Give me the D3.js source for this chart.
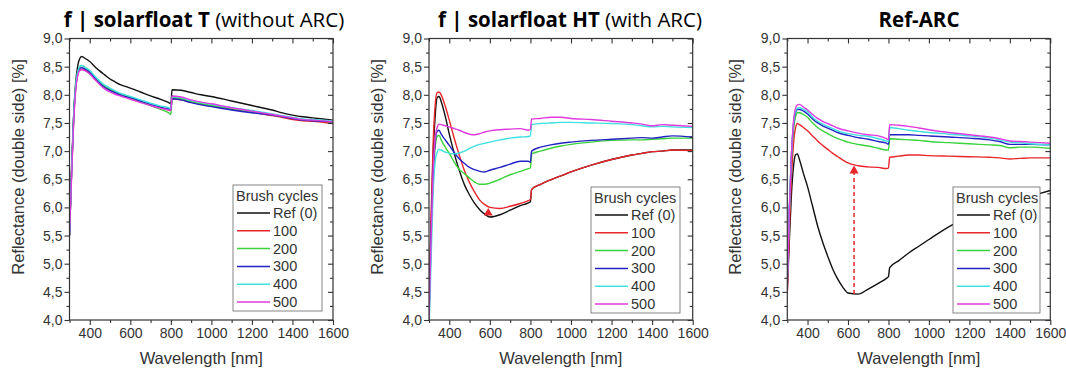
<!DOCTYPE html>
<html>
<head>
<meta charset="utf-8">
<script src="https://cdn.jsdelivr.net/npm/d3@7"></script>
<style>
  body { margin: 0; background: #fff; }
  svg { display: block; }
</style>
</head>
<body>
<svg id="chart"></svg>
<script>
// wavelength grid shared by every curve [nm]
var wavelength = [300, 310, 320, 330, 340, 350, 360, 380, 400, 425, 450, 475, 500, 525, 550, 575, 600, 650, 700, 750, 790, 800, 806, 850, 900, 950, 1000, 1100, 1200, 1300, 1350, 1400, 1450, 1500, 1600];

var seriesNames = ["Ref (0)", "100", "200", "300", "400", "500"];

// f | solarfloat T (without ARC)
var tRef = [5.5, 6.7, 7.6, 8.2, 8.5, 8.64, 8.68, 8.64, 8.59, 8.5, 8.42, 8.35, 8.28, 8.23, 8.18, 8.15, 8.12, 8.05, 7.98, 7.92, 7.86, 7.84, 8.09, 8.08, 8.04, 8.0, 7.97, 7.89, 7.81, 7.73, 7.68, 7.64, 7.61, 7.59, 7.55];
var t100 = [5.5, 6.6, 7.5, 8.1, 8.35, 8.44, 8.45, 8.43, 8.38, 8.29, 8.2, 8.13, 8.08, 8.04, 8.0, 7.97, 7.94, 7.88, 7.82, 7.77, 7.73, 7.72, 7.93, 7.91, 7.87, 7.83, 7.8, 7.74, 7.69, 7.63, 7.6, 7.56, 7.54, 7.53, 7.49];
var t200 = [5.5, 6.6, 7.55, 8.15, 8.4, 8.5, 8.52, 8.48, 8.42, 8.32, 8.22, 8.15, 8.1, 8.05, 8.01, 7.98, 7.95, 7.88, 7.81, 7.74, 7.68, 7.65, 7.95, 7.93, 7.88, 7.84, 7.81, 7.75, 7.7, 7.65, 7.62, 7.59, 7.56, 7.55, 7.52];
var t300 = [5.5, 6.6, 7.55, 8.12, 8.38, 8.47, 8.48, 8.45, 8.4, 8.3, 8.2, 8.13, 8.08, 8.04, 8.0, 7.97, 7.95, 7.89, 7.83, 7.78, 7.75, 7.74, 7.93, 7.91, 7.86, 7.82, 7.79, 7.73, 7.68, 7.64, 7.61, 7.58, 7.55, 7.54, 7.52];
var t400 = [5.5, 6.6, 7.55, 8.15, 8.4, 8.5, 8.52, 8.48, 8.43, 8.33, 8.24, 8.17, 8.12, 8.07, 8.03, 8.0, 7.97, 7.91, 7.85, 7.8, 7.77, 7.76, 7.97, 7.95, 7.9, 7.86, 7.83, 7.77, 7.72, 7.66, 7.63, 7.6, 7.57, 7.56, 7.53];
var t500 = [5.5, 6.5, 7.45, 8.05, 8.33, 8.43, 8.45, 8.42, 8.37, 8.27, 8.18, 8.1, 8.05, 8.01, 7.98, 7.95, 7.92, 7.86, 7.81, 7.76, 7.73, 7.72, 7.98, 7.96, 7.91, 7.87, 7.84, 7.77, 7.71, 7.65, 7.62, 7.59, 7.56, 7.55, 7.52];

// f | solarfloat HT (with ARC)
var htRef = [4.3, 5.6, 6.9, 7.6, 7.95, 7.97, 7.88, 7.62, 7.3, 6.95, 6.65, 6.4, 6.22, 6.07, 5.96, 5.88, 5.83, 5.87, 5.95, 6.03, 6.08, 6.1, 6.32, 6.41, 6.49, 6.56, 6.63, 6.75, 6.85, 6.93, 6.96, 6.99, 7.0, 7.02, 7.02];
var ht100 = [4.3, 5.8, 7.1, 7.8, 8.04, 8.05, 8.0, 7.8, 7.55, 7.22, 6.92, 6.65, 6.44, 6.27, 6.13, 6.05, 6.0, 5.98, 6.02, 6.07, 6.12, 6.14, 6.32, 6.41, 6.49, 6.56, 6.63, 6.75, 6.85, 6.93, 6.96, 6.99, 7.0, 7.02, 7.01];
var ht200 = [4.0, 5.4, 6.5, 7.05, 7.26, 7.28, 7.2, 7.07, 6.96, 6.8, 6.67, 6.6, 6.52, 6.45, 6.41, 6.41, 6.43, 6.5, 6.58, 6.64, 6.69, 6.7, 6.95, 7.0, 7.05, 7.09, 7.12, 7.16, 7.19, 7.2, 7.2, 7.21, 7.22, 7.23, 7.23];
var ht300 = [4.0, 5.5, 6.6, 7.15, 7.35, 7.37, 7.3, 7.2, 7.1, 6.97, 6.86, 6.78, 6.71, 6.67, 6.64, 6.63, 6.66, 6.71, 6.77, 6.82, 6.82, 6.8, 7.0, 7.07, 7.11, 7.14, 7.16, 7.19, 7.21, 7.23, 7.24, 7.23, 7.25, 7.27, 7.25];
var ht400 = [3.8, 5.0, 6.2, 6.8, 6.98, 7.03, 7.02, 6.98, 6.96, 6.95, 6.97, 7.0, 7.05, 7.09, 7.12, 7.14, 7.16, 7.2, 7.23, 7.25, 7.26, 7.27, 7.47, 7.49, 7.5, 7.51, 7.51, 7.5, 7.49, 7.47, 7.45, 7.43, 7.44, 7.43, 7.42];
var ht500 = [4.0, 5.4, 6.6, 7.2, 7.42, 7.48, 7.47, 7.45, 7.43, 7.4, 7.37, 7.33, 7.3, 7.29, 7.31, 7.34, 7.36, 7.38, 7.39, 7.4, 7.37, 7.39, 7.57, 7.58, 7.6, 7.6, 7.58, 7.56, 7.53, 7.5, 7.48, 7.45, 7.47, 7.46, 7.44];

// Ref-ARC
var arcRef = [4.5, 5.4, 6.2, 6.7, 6.93, 6.95, 6.85, 6.6, 6.37, 6.02, 5.67, 5.38, 5.13, 4.9, 4.72, 4.58, 4.48, 4.46, 4.55, 4.65, 4.74, 4.77, 4.93, 5.05, 5.19, 5.31, 5.43, 5.66, 5.84, 5.98, 6.04, 6.1, 6.15, 6.2, 6.3];
var arc100 = [4.5, 5.6, 6.5, 7.1, 7.4, 7.49, 7.47, 7.42, 7.36, 7.27, 7.18, 7.1, 7.03, 6.96, 6.9, 6.84, 6.79, 6.74, 6.72, 6.71, 6.69, 6.7, 6.89, 6.91, 6.93, 6.93, 6.92, 6.91, 6.9, 6.89, 6.88, 6.86, 6.87, 6.88, 6.88];
var arc200 = [4.7, 5.9, 6.8, 7.35, 7.6, 7.68, 7.68, 7.65, 7.6, 7.5, 7.42, 7.36, 7.31, 7.26, 7.22, 7.19, 7.16, 7.12, 7.09, 7.05, 7.02, 7.02, 7.22, 7.21, 7.2, 7.19, 7.17, 7.15, 7.13, 7.11, 7.1, 7.06, 7.07, 7.07, 7.05];
var arc300 = [4.75, 6.0, 6.9, 7.45, 7.68, 7.74, 7.74, 7.71, 7.66, 7.57, 7.5, 7.45, 7.41, 7.37, 7.33, 7.3, 7.28, 7.24, 7.21, 7.17, 7.14, 7.12, 7.29, 7.29, 7.29, 7.28, 7.27, 7.25, 7.23, 7.2, 7.17, 7.12, 7.12, 7.12, 7.11];
var arc400 = [4.7, 5.95, 6.9, 7.45, 7.7, 7.76, 7.77, 7.74, 7.7, 7.6, 7.53, 7.48, 7.44, 7.4, 7.36, 7.33, 7.31, 7.28, 7.26, 7.22, 7.18, 7.17, 7.42, 7.4, 7.37, 7.35, 7.33, 7.3, 7.27, 7.23, 7.2, 7.16, 7.15, 7.13, 7.11];
var arc500 = [4.6, 5.9, 6.9, 7.5, 7.75, 7.82, 7.83, 7.78, 7.73, 7.65, 7.58, 7.53, 7.49, 7.45, 7.41, 7.38, 7.36, 7.32, 7.29, 7.27, 7.22, 7.2, 7.47, 7.46, 7.44, 7.41, 7.38, 7.33, 7.29, 7.25, 7.22, 7.18, 7.17, 7.16, 7.14];

// annotations
var htMarker = { wl: 592, value: 5.9 };
var arcArrow = { wl: 630, from: 4.46, to: 6.72 };

var xTicks = [400, 600, 800, 1000, 1200, 1400, 1600];
var yTicks = [4.0, 4.5, 5.0, 5.5, 6.0, 6.5, 7.0, 7.5, 8.0, 8.5, 9.0];

var colors = ["#111111", "#e8262a", "#3ad23a", "#2323c4", "#3fe0e0", "#df3ade"];

var panels = [
    { bold: "f | solarfloat T", normal: " (without ARC)", series: [tRef, t100, t200, t300, t400, t500],
      left: 69.5, right: 333, titleX: 204, legendX: 233, legendY: 185, legendW: 89 },
    { bold: "f | solarfloat HT", normal: " (with ARC)", series: [htRef, ht100, ht200, ht300, ht400, ht500],
      left: 429, right: 692.7, titleX: 570, legendX: 591, legendY: 187, legendW: 89, marker: htMarker },
    { bold: "Ref-ARC", normal: "", series: [arcRef, arc100, arc200, arc300, arc400, arc500],
      left: 787.3, right: 1050.3, titleX: 919, legendX: 953, legendY: 187, legendW: 87, arrow: arcArrow }
];

const svgWidth = 1066, svgHeight = 371;
const plotTop = 38.5, plotBottom = 320;
const labelFont = "Arial, 'Liberation Sans', sans-serif";
const titleFont = "'Open Sans', 'DejaVu Sans', sans-serif";

var svg = d3.select("#chart")
    .attr("width", svgWidth)
    .attr("height", svgHeight);

svg.append("rect").attr("width", svgWidth).attr("height", svgHeight).attr("fill", "#fff");

let commaFormat = d => d3.format(".1f")(d).replace(".", ",");

panels.forEach(function(p, i) {
    var x = d3.scaleLinear().domain([300, 1600]).range([p.left, p.right]);
    var y = d3.scaleLinear().domain([4, 9]).range([plotBottom, plotTop]);

    var g = svg.append("g");

    // clip for the curves
    g.append("clipPath").attr("id", "clip" + i)
        .append("rect")
        .attr("x", p.left).attr("y", plotTop)
        .attr("width", p.right - p.left).attr("height", plotBottom - plotTop);

    // curves
    var line = d3.line()
        .x((d, k) => x(wavelength[k]))
        .y(d => y(d))
        .curve(d3.curveMonotoneX);

    g.append("g").attr("clip-path", "url(#clip" + i + ")")
        .selectAll("path")
        .data(p.series)
        .enter()
        .append("path")
        .attr("d", line)
        .attr("fill", "none")
        .attr("stroke", (d, k) => colors[k])
        .attr("stroke-width", 1.4)
        .attr("stroke-linejoin", "round");

    // axes: bottom / left with labels, minor ticks, mirrored top / right ticks inward
    var minorX = d3.range(300, 1601, 100).filter(v => xTicks.indexOf(v) < 0);
    var minorY = d3.range(4.25, 9, 0.5);

    var bottom = g.append("g").attr("transform", "translate(0," + plotBottom + ")");
    bottom.call(d3.axisBottom(x).tickValues(xTicks).tickFormat(d3.format("d")).tickSizeInner(5).tickSizeOuter(0).tickPadding(3));
    bottom.append("g").call(d3.axisBottom(x).tickValues(minorX).tickFormat("").tickSizeInner(3).tickSizeOuter(0));

    var left = g.append("g").attr("transform", "translate(" + p.left + ",0)");
    left.call(d3.axisLeft(y).tickValues(yTicks).tickFormat(commaFormat).tickSizeInner(5).tickSizeOuter(0).tickPadding(2));
    left.append("g").call(d3.axisLeft(y).tickValues(minorY).tickFormat("").tickSizeInner(3).tickSizeOuter(0));

    var top = g.append("g").attr("transform", "translate(0," + plotTop + ")");
    top.call(d3.axisTop(x).tickValues(xTicks).tickFormat("").tickSizeInner(-5).tickSizeOuter(0));
    top.append("g").call(d3.axisTop(x).tickValues(minorX).tickFormat("").tickSizeInner(-3).tickSizeOuter(0));

    var right = g.append("g").attr("transform", "translate(" + p.right + ",0)");
    right.call(d3.axisRight(y).tickValues(yTicks).tickFormat("").tickSizeInner(-5).tickSizeOuter(0));
    right.append("g").call(d3.axisRight(y).tickValues(minorY).tickFormat("").tickSizeInner(-3).tickSizeOuter(0));

    g.selectAll(".domain").remove();
    g.selectAll(".tick line").attr("stroke", "#333").attr("stroke-width", 1.1);
    g.selectAll(".tick text")
        .attr("font-size", 14)
        .attr("font-family", labelFont)
        .attr("fill", "#333");

    // frame
    g.append("rect")
        .attr("x", p.left).attr("y", plotTop)
        .attr("width", p.right - p.left).attr("height", plotBottom - plotTop)
        .attr("fill", "none").attr("stroke", "#333").attr("stroke-width", 1.2);

    // annotations
    if (p.marker) {
        g.append("path")
            .attr("d", d3.symbol().type(d3.symbolTriangle).size(34))
            .attr("transform", "translate(" + x(p.marker.wl) + "," + y(p.marker.value) + ")")
            .attr("fill", "#e8262a");
    }
    if (p.arrow) {
        g.append("line")
            .attr("x1", x(p.arrow.wl)).attr("x2", x(p.arrow.wl))
            .attr("y1", y(p.arrow.from)).attr("y2", y(p.arrow.to) + 6)
            .attr("stroke", "#e8262a").attr("stroke-width", 1.5)
            .attr("stroke-dasharray", "4,3");
        g.append("path")
            .attr("d", d3.symbol().type(d3.symbolTriangle).size(36))
            .attr("transform", "translate(" + x(p.arrow.wl) + "," + (y(p.arrow.to) + 4) + ")")
            .attr("fill", "#e8262a");
    }

    // legend
    var lg = g.append("g").attr("transform", "translate(" + p.legendX + "," + p.legendY + ")");
    lg.append("rect")
        .attr("width", p.legendW).attr("height", 126)
        .attr("fill", "#fff").attr("stroke", "#666").attr("stroke-width", 0.8);
    lg.append("text")
        .attr("x", 3).attr("y", 16)
        .attr("font-size", 14.5).attr("font-family", labelFont).attr("fill", "#333")
        .text("Brush cycles");
    seriesNames.forEach(function(name, k) {
        var cy = 28 + k * 17.8;
        lg.append("line")
            .attr("x1", 4).attr("x2", 37)
            .attr("y1", cy).attr("y2", cy)
            .attr("stroke", colors[k]).attr("stroke-width", 1.5);
        lg.append("text")
            .attr("x", 40).attr("y", cy + 5)
            .attr("font-size", 14.5).attr("font-family", labelFont).attr("fill", "#333")
            .text(name);
    });

    // axis titles
    g.append("text")
        .attr("x", (p.left + p.right) / 2).attr("y", 364)
        .attr("text-anchor", "middle")
        .attr("font-size", 16.5).attr("font-family", labelFont).attr("fill", "#333")
        .text("Wavelength [nm]");
    g.append("text")
        .attr("transform", "translate(" + (p.left - 46) + ",167) rotate(-90)")
        .attr("text-anchor", "middle")
        .attr("font-size", 16.5).attr("font-family", labelFont).attr("fill", "#333")
        .text("Reflectance (double side) [%]");

    // panel title
    var title = g.append("text")
        .attr("x", p.titleX).attr("y", 27)
        .attr("text-anchor", "middle")
        .attr("font-size", 20.5).attr("font-family", titleFont).attr("fill", "#000");
    title.append("tspan").attr("font-weight", "bold").text(p.bold);
    if (p.normal) title.append("tspan").attr("font-weight", "normal").text(p.normal);
});
</script>
</body>
</html>
